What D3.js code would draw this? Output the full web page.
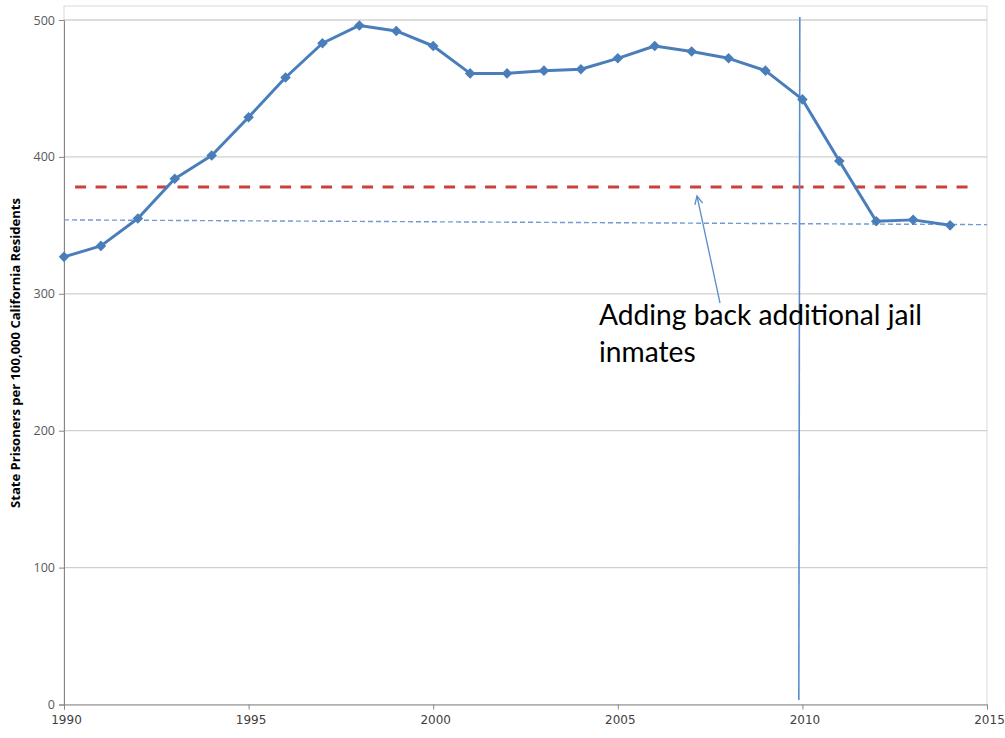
<!DOCTYPE html>
<html><head><meta charset="utf-8">
<script src="https://cdn.jsdelivr.net/npm/d3@7"></script>
<style>body{margin:0;background:#fff}svg{display:block}</style>
</head><body>
<svg id="c" width="1005" height="738"></svg>
<script>
const years = [1990,1991,1992,1993,1994,1995,1996,1997,1998,1999,2000,2001,2002,2003,2004,2005,2006,2007,2008,2009,2010,2011,2012,2013,2014];
const rates = [327,335,355,384,401,429,458,483,496,492,481,461,461,463,464,472,481,477,472,463,442,397,353,354,350];
const redLine = {from:1990.3, to:2014.5, value:378};
const trendLine = {from:1990, to:2015, start:354, end:350.5};
const markerYear = 2009.93;
const yTicks = [0,100,200,300,400,500];
const xTicks = [1990,1995,2000,2005,2010,2015];
const yLabel = "State Prisoners per 100,000 California Residents";
const noteLines = ["Adding back additional jail","inmates"];

const svg = d3.select("#c");
const L=64, R=987, T=20, B=704.5;
const x = d3.scaleLinear().domain([1990,2015]).range([L,R]);
const y = d3.scaleLinear().domain([0,500]).range([B,T]);

// plot border
svg.append("rect").attr("x",L).attr("y",6).attr("width",R-L).attr("height",B-6)
  .attr("fill","none").attr("stroke","#d9d9d9").attr("stroke-width",1);

// grid
svg.append("g").selectAll("line").data(yTicks.filter(d=>d>0)).join("line")
  .attr("x1",L).attr("x2",R).attr("y1",d=>y(d)).attr("y2",d=>y(d))
  .attr("stroke","#d0d0d0").attr("stroke-width",1.3);

// y axis
const ya = svg.append("g").attr("transform",`translate(${L},0)`)
  .call(d3.axisLeft(y).tickValues(yTicks).tickSize(5).tickPadding(4));
ya.select(".domain").attr("stroke","#868686");
ya.selectAll(".tick line").attr("stroke","#868686");
ya.selectAll("text").attr("font-family","'Open Sans', sans-serif").attr("font-size",12.5).attr("fill","#595959");

// x axis
const xa = svg.append("g").attr("transform",`translate(0,${B})`)
  .call(d3.axisBottom(x).tickValues(xTicks).tickFormat(d3.format("d")).tickSize(5).tickPadding(6));
xa.select(".domain").attr("stroke","#868686");
xa.selectAll(".tick line").attr("stroke","#868686");
xa.selectAll("text").attr("font-family","'DejaVu Sans', sans-serif")
  .attr("font-size",12).attr("fill","#404040").attr("dx",2);

// y label
const yl = svg.append("text").attr("transform",`translate(20,${353}) rotate(-90)`)
  .attr("text-anchor","middle").attr("font-family","'Open Sans', sans-serif")
  .attr("font-weight","bold").attr("font-size",12).attr("fill","#000").text(yLabel);
const ylw = yl.node().getComputedTextLength();
if (ylw>0) yl.attr("font-size",12*310/ylw);

// trend dashed line
svg.append("line").attr("x1",x(trendLine.from)).attr("x2",x(trendLine.to))
  .attr("y1",y(trendLine.start)).attr("y2",y(trendLine.end))
  .attr("stroke","#6f9bd1").attr("stroke-width",1.4).attr("stroke-dasharray","5,3");

// red dashed line
svg.append("line").attr("x1",x(redLine.from)).attr("x2",x(redLine.to))
  .attr("y1",y(redLine.value)).attr("y2",y(redLine.value))
  .attr("stroke","#c9403d").attr("stroke-width",3).attr("stroke-dasharray","11,9.5");

// vertical marker
svg.append("line").attr("x1",x(markerYear)).attr("x2",x(markerYear)-1)
  .attr("y1",17).attr("y2",700).attr("stroke","#5b8ccc").attr("stroke-width",1.6);

// series line
const data = years.map((yr,i)=>({yr,v:rates[i]}));
svg.append("path").datum(data)
  .attr("d",d3.line().x(d=>x(d.yr)).y(d=>y(d.v)))
  .attr("fill","none").attr("stroke","#4a7ebb").attr("stroke-width",3).attr("stroke-linejoin","round");
svg.append("g").selectAll("path").data(data).join("path")
  .attr("transform",d=>`translate(${x(d.yr)},${y(d.v)}) rotate(45)`)
  .attr("d",d3.symbol(d3.symbolSquare,56))
  .attr("fill","#4a7ebb");

// annotation
const note = svg.append("g");
note.selectAll("text").data(noteLines).join("text")
  .attr("x",599).attr("y",(d,i)=>325+i*37)
  .attr("font-family","Lato, 'Open Sans', sans-serif").attr("font-size",25).attr("fill","#000")
  .text(d=>d);
const first = note.select("text").node();
const w = first.getComputedTextLength();
if (w>0) note.selectAll("text").attr("font-size",25*323/w);

// arrow
const ax1=720, ay1=303, ax2=697, ay2=196;
svg.append("line").attr("x1",ax1).attr("y1",ay1).attr("x2",ax2).attr("y2",ay2)
  .attr("stroke","#5b8ccc").attr("stroke-width",1.3);
const ang = Math.atan2(ay1-ay2, ax1-ax2);
const hl=9, spread=0.45;
svg.append("path").attr("d",
  `M${ax2+hl*Math.cos(ang+spread)},${ay2+hl*Math.sin(ang+spread)} L${ax2},${ay2} L${ax2+hl*Math.cos(ang-spread)},${ay2+hl*Math.sin(ang-spread)}`)
  .attr("fill","none").attr("stroke","#5b8ccc").attr("stroke-width",1.3);
</script>
</body></html>
